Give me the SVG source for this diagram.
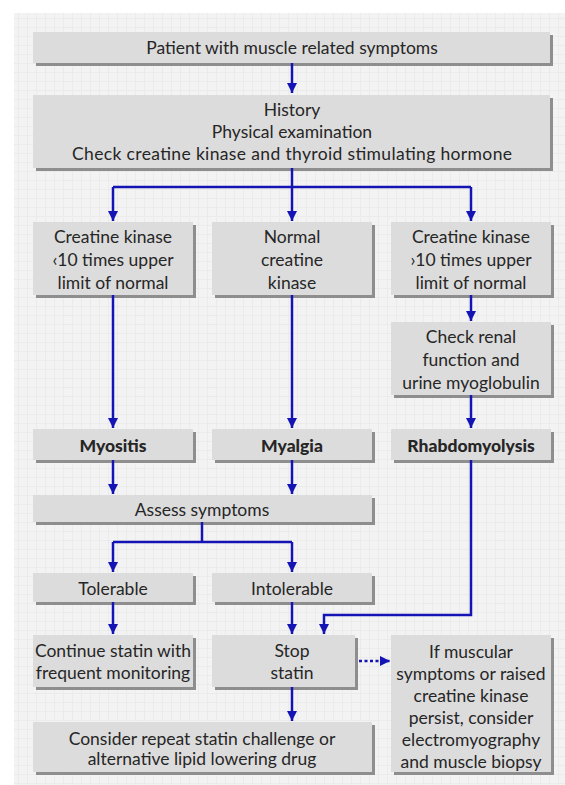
<svg xmlns="http://www.w3.org/2000/svg" width="565" height="785" viewBox="0 0 565 785">
<defs>
<pattern id="grid" width="9" height="9" patternUnits="userSpaceOnUse">
<rect width="9" height="9" fill="#f3f3f3"/>
<path d="M0 0.5H9M0.5 0V9" stroke="#ebebeb" stroke-width="1" fill="none"/>
</pattern>
<marker id="ah" markerWidth="10" markerHeight="12" refX="10" refY="5" orient="auto" markerUnits="userSpaceOnUse" viewBox="0 0 10 10">
<path d="M0,0 L10,5 L0,10 z" fill="#1414b4"/>
</marker>
</defs>
<style>
.sh{fill:#8e8e8e}
.bx{fill:#dcdcdc}
text{font-family:Lato,"Noto Sans","DejaVu Sans",sans-serif;font-size:17.5px;fill:#262626;text-anchor:middle;dominant-baseline:central}
.b{font-weight:900}
.c{fill:none;stroke:#1414b4;stroke-width:2.5}
.d{fill:none;stroke:#1414b4;stroke-width:2.5;stroke-dasharray:3 2.5}
</style>
<rect x="0" y="0" width="565" height="785" fill="#ffffff"/>
<rect x="14" y="13" width="551" height="772" fill="url(#grid)"/>

<g id="n1"><rect class="sh" x="36" y="35" width="517" height="31"/><rect class="bx" x="33" y="32" width="517" height="31"/><text x="292" y="47.5">Patient with muscle related symptoms</text></g>
<g id="n2"><rect class="sh" x="36" y="98" width="517" height="73"/><rect class="bx" x="33" y="95" width="517" height="73"/><text x="292" y="109">History</text><text x="292" y="131">Physical examination</text><text x="292" y="153" textLength="440" lengthAdjust="spacing">Check creatine kinase and thyroid stimulating hormone</text></g>
<g id="n3"><rect class="sh" x="36" y="225" width="160" height="73"/><rect class="bx" x="33" y="222" width="160" height="73"/><text x="113" y="236">Creatine kinase</text><text x="113" y="259">‹10 times upper</text><text x="113" y="282">limit of normal</text></g>
<g id="n4"><rect class="sh" x="215" y="225" width="160" height="73"/><rect class="bx" x="212" y="222" width="160" height="73"/><text x="292" y="236">Normal</text><text x="292" y="259">creatine</text><text x="292" y="282">kinase</text></g>
<g id="n5"><rect class="sh" x="394" y="225" width="160" height="73"/><rect class="bx" x="391" y="222" width="160" height="73"/><text x="471" y="236">Creatine kinase</text><text x="471" y="259">›10 times upper</text><text x="471" y="282">limit of normal</text></g>
<g id="n6"><rect class="sh" x="394" y="325" width="160" height="73"/><rect class="bx" x="391" y="322" width="160" height="73"/><text x="471" y="336">Check renal</text><text x="471" y="359">function and</text><text x="471" y="382">urine myoglobulin</text></g>
<g id="n7"><rect class="sh" x="36" y="432" width="160" height="31"/><rect class="bx" x="33" y="429" width="160" height="31"/><text class="b" x="113" y="445">Myositis</text></g>
<g id="n8"><rect class="sh" x="215" y="432" width="160" height="31"/><rect class="bx" x="212" y="429" width="160" height="31"/><text class="b" x="292" y="445">Myalgia</text></g>
<g id="n9"><rect class="sh" x="394" y="432" width="160" height="31"/><rect class="bx" x="391" y="429" width="160" height="31"/><text class="b" x="471" y="445">Rhabdomyolysis</text></g>
<g id="n10"><rect class="sh" x="36" y="498" width="339" height="27"/><rect class="bx" x="33" y="495" width="339" height="27"/><text x="202" y="509">Assess symptoms</text></g>
<g id="n11"><rect class="sh" x="36" y="576" width="160" height="29"/><rect class="bx" x="33" y="573" width="160" height="29"/><text x="113" y="588">Tolerable</text></g>
<g id="n12"><rect class="sh" x="215" y="576" width="160" height="29"/><rect class="bx" x="212" y="573" width="160" height="29"/><text x="292" y="588">Intolerable</text></g>
<g id="n13"><rect class="sh" x="36" y="638" width="160" height="52"/><rect class="bx" x="33" y="635" width="160" height="52"/><text x="113" y="650">Continue statin with</text><text x="113" y="672">frequent monitoring</text></g>
<g id="n14"><rect class="sh" x="215" y="638" width="143" height="52"/><rect class="bx" x="212" y="635" width="143" height="52"/><text x="292" y="650">Stop</text><text x="292" y="672">statin</text></g>
<g id="n15"><rect class="sh" x="394" y="638" width="160" height="137"/><rect class="bx" x="391" y="635" width="160" height="137"/><text x="471" y="651">If muscular</text><text x="471" y="673">symptoms or raised</text><text x="471" y="695">creatine kinase</text><text x="471" y="717">persist, consider</text><text x="471" y="739">electromyography</text><text x="471" y="761">and muscle biopsy</text></g>
<g id="n16"><rect class="sh" x="36" y="725" width="339" height="50"/><rect class="bx" x="33" y="722" width="339" height="50"/><text x="202" y="738">Consider repeat statin challenge or</text><text x="202" y="758">alternative lipid lowering drug</text></g>

<g id="connectors">
<path class="c" d="M292 63V93" marker-end="url(#ah)"/>
<path class="c" d="M292 168V187"/>
<path class="c" d="M113 187H471"/>
<path class="c" d="M113 187V221" marker-end="url(#ah)"/>
<path class="c" d="M292 187V221" marker-end="url(#ah)"/>
<path class="c" d="M471 187V221" marker-end="url(#ah)"/>
<path class="c" d="M113 295V428" marker-end="url(#ah)"/>
<path class="c" d="M292 295V428" marker-end="url(#ah)"/>
<path class="c" d="M471 295V321" marker-end="url(#ah)"/>
<path class="c" d="M471 395V428" marker-end="url(#ah)"/>
<path class="c" d="M113 460V494" marker-end="url(#ah)"/>
<path class="c" d="M292 460V494" marker-end="url(#ah)"/>
<path class="c" d="M202 522V542"/>
<path class="c" d="M113 542H292"/>
<path class="c" d="M113 542V572" marker-end="url(#ah)"/>
<path class="c" d="M292 542V572" marker-end="url(#ah)"/>
<path class="c" d="M113 602V634" marker-end="url(#ah)"/>
<path class="c" d="M292 602V634" marker-end="url(#ah)"/>
<path class="c" d="M471 460V615H324V634" marker-end="url(#ah)"/>
<path class="c" d="M292 687V721" marker-end="url(#ah)"/>
<path class="d" d="M359 661H390" marker-end="url(#ah)"/>
</g>
</svg>
